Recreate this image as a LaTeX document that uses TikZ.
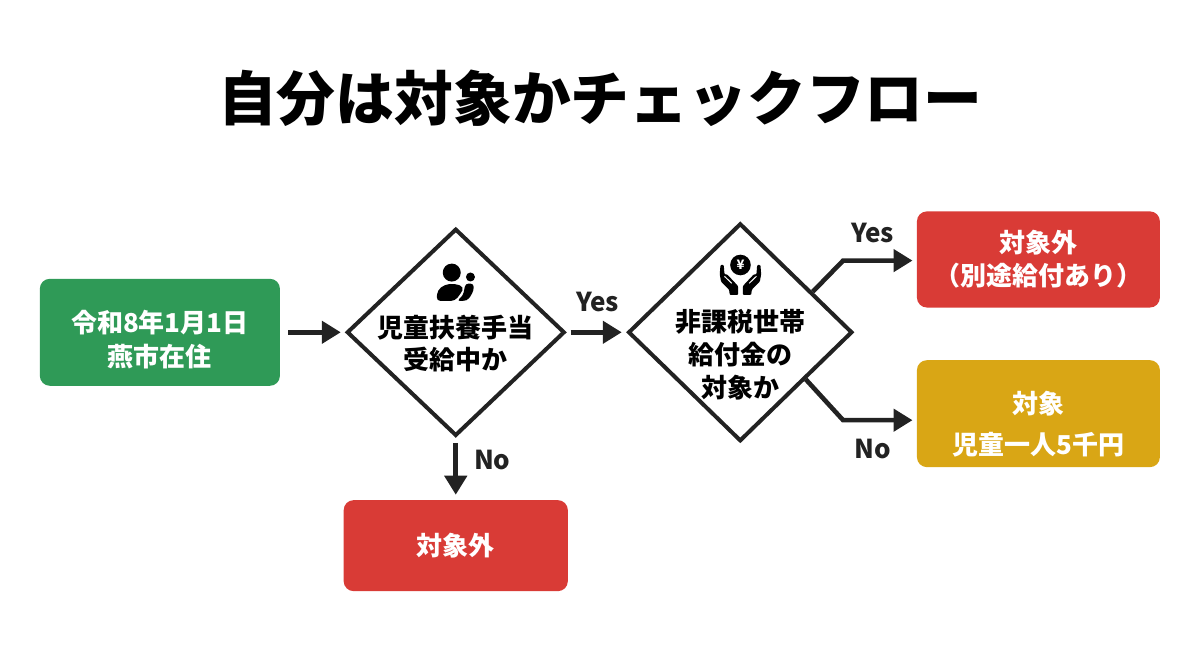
\documentclass[tikz,border=0pt]{standalone}
\usepackage{fontspec}
\setmainfont{Noto Sans CJK JP}
\usepackage{xcolor}
\usetikzlibrary{shapes.geometric}
\usetikzlibrary{arrows.meta}
\usetikzlibrary{calc}
\definecolor{startgreen}{HTML}{2F9A57}
\definecolor{stopred}{HTML}{D93B36}
\definecolor{okyellow}{HTML}{D9A615}
\definecolor{inkblack}{HTML}{222222}

\begin{document}
\begin{tikzpicture}[node distance=1cm, auto]
    \tikzstyle{result} = [rectangle, rounded corners=5pt, minimum width=4.27cm, minimum height=1.69cm, text centered, align=center, text=white, inner sep=0pt, font=\fontsize{13}{17.5}\selectfont\bfseries]
    \tikzstyle{decision} = [diamond, minimum width=3.83cm, minimum height=3.64cm, inner sep=0pt, draw=inkblack, line width=2pt, fill=white]
    \tikzstyle{question} = [text centered, align=center, text=black, inner sep=0pt, font=\fontsize{13}{17.5}\selectfont\bfseries]
    \tikzstyle{flow} = [draw=inkblack, line width=2.3pt, -{Triangle[length=9.5pt, width=11pt]}]
    \tikzstyle{answer} = [text=inkblack, inner sep=0pt, font=\fontsize{13}{15}\selectfont\bfseries]

    \useasboundingbox (0,0) rectangle (21.09,11.51);

    % Title
    \node [font=\fontsize{29.4}{34}\selectfont\bfseries, inner sep=0pt] (title) at (10.55,9.79) {自分は対象かチェックフロー};

    % Boxes and diamonds
    \node [result, fill=startgreen, minimum height=1.88cm, minimum width=4.22cm] (start) at (2.81,5.67) {\rule{0pt}{18pt}令和8年1月1日\\[-0.5pt]燕市在住};
    \node [decision, right of=start, xshift=4.2cm] (childcare) {};
    \node [decision, right of=childcare, xshift=4cm, minimum width=3.94cm, minimum height=3.83cm] (benefit) {};
    \node [result, fill=stopred, right of=benefit, xshift=4.24cm, yshift=1.28cm] (outside) {対象外\\[-1pt]（別途給付あり）};
    \node [result, fill=okyellow, right of=benefit, xshift=4.24cm, yshift=-1.43cm, minimum height=1.88cm] (eligible) {\rule{0pt}{22pt}対象\\[3pt]児童一人5千円};
    \node [result, fill=stopred, below of=childcare, yshift=-2.75cm, minimum width=3.94cm, minimum height=1.6cm] (excluded) {対象外};

    % Text in the diamonds
    \node [question, below of=childcare, yshift=0.8cm] (childcaretext) {児童扶養手当\\[-1.5pt]受給中か};
    \node [question, below of=benefit, yshift=0.6cm] (benefittext) {非課税世帯\\[-1pt]給付金の\\[-1pt]対象か};

    % Person icon
    \begin{scope}[shift={(childcare.center)}, x=0.5pt, y=-0.5pt]
        \fill [black] (-4,-59.7) circle (9);
        \fill [black] (14.7,-55.3) circle (4.5);
        \fill [black, rounded corners=2pt] (-19.3,-31.3) -- (-18.3,-42) -- (-11,-47.7) -- (-1,-48.7) -- (8.3,-45.3) -- (5,-38.7) -- (-1,-31.3) -- cycle;
        \fill [black, rounded corners=1.5pt] (1.3,-31.3) -- (7.3,-37) -- (9.7,-48.7) -- (17.8,-48.7) -- (18,-42) -- (13,-33) -- (8.3,-31.3) -- cycle;
    \end{scope}

    % Coin and hands icon
    \begin{scope}[shift={(benefit.center)}, x=0.5pt, y=-0.5pt]
        \node [circle, fill=black, minimum size=10.3pt, inner sep=0pt, text=white, font=\fontsize{6.5}{7}\selectfont\bfseries] (coin) at (0.2,-67.3) {¥};
        \fill [black, rounded corners=0.5pt] (-19.8,-67.3) -- (-16.5,-67.3) -- (-15.8,-58) -- (-13.2,-58) -- (-2.2,-46.3) -- (-2.2,-37.3) -- (-10.5,-37.3) -- (-11.2,-42.7) -- (-19.2,-50.7) -- (-20.5,-58) -- cycle;
        \fill [black, rounded corners=0.5pt] (20.2,-67.3) -- (16.9,-67.3) -- (16.2,-58) -- (13.6,-58) -- (2.6,-46.3) -- (2.6,-37.3) -- (10.9,-37.3) -- (11.6,-42.7) -- (19.6,-50.7) -- (20.9,-58) -- cycle;
        \draw [white, line width=0.5pt] (-15.8,-56) -- (-8.5,-49);
        \draw [white, line width=0.5pt] (16.2,-56) -- (8.9,-49);
    \end{scope}

    % Bends of the two outgoing branches
    \coordinate (yesfoot) at ($(benefit.north east)!0.27!(benefit.east)$);
    \coordinate (nofoot) at ($(benefit.south east)!0.15!(benefit.east)$);
    \coordinate (yesbend) at ($(outside.west)+(-1.29,-0.02)$);
    \coordinate (nobend) at ($(eligible.west)+(-1.29,-0.115)$);

    % Arrows
    \draw [flow, shorten <=4pt, shorten >=2pt] (start) -- (childcare);
    \draw [flow, shorten <=2pt, shorten >=2.2pt] (childcare) -- (benefit) node [answer, midway, above, yshift=9pt, xshift=0.5pt] (yes1) {Yes};
    \draw [flow, shorten <=2.5pt, shorten >=2.5pt] (childcare) -- (excluded) node [answer, pos=0.36, right, xshift=8pt] (no1) {No};
    \draw [flow, shorten >=2pt] (yesfoot) -- (yesbend) -- (yesbend -| outside.west) node [answer, pos=0.4, above, yshift=7.5pt] (yes2) {Yes};
    \draw [flow, shorten >=2pt] (nofoot) -- (nobend) -- (nobend -| eligible.west) node [answer, pos=0.4, below, yshift=-8.5pt] (no2) {No};
\end{tikzpicture}
\end{document}
